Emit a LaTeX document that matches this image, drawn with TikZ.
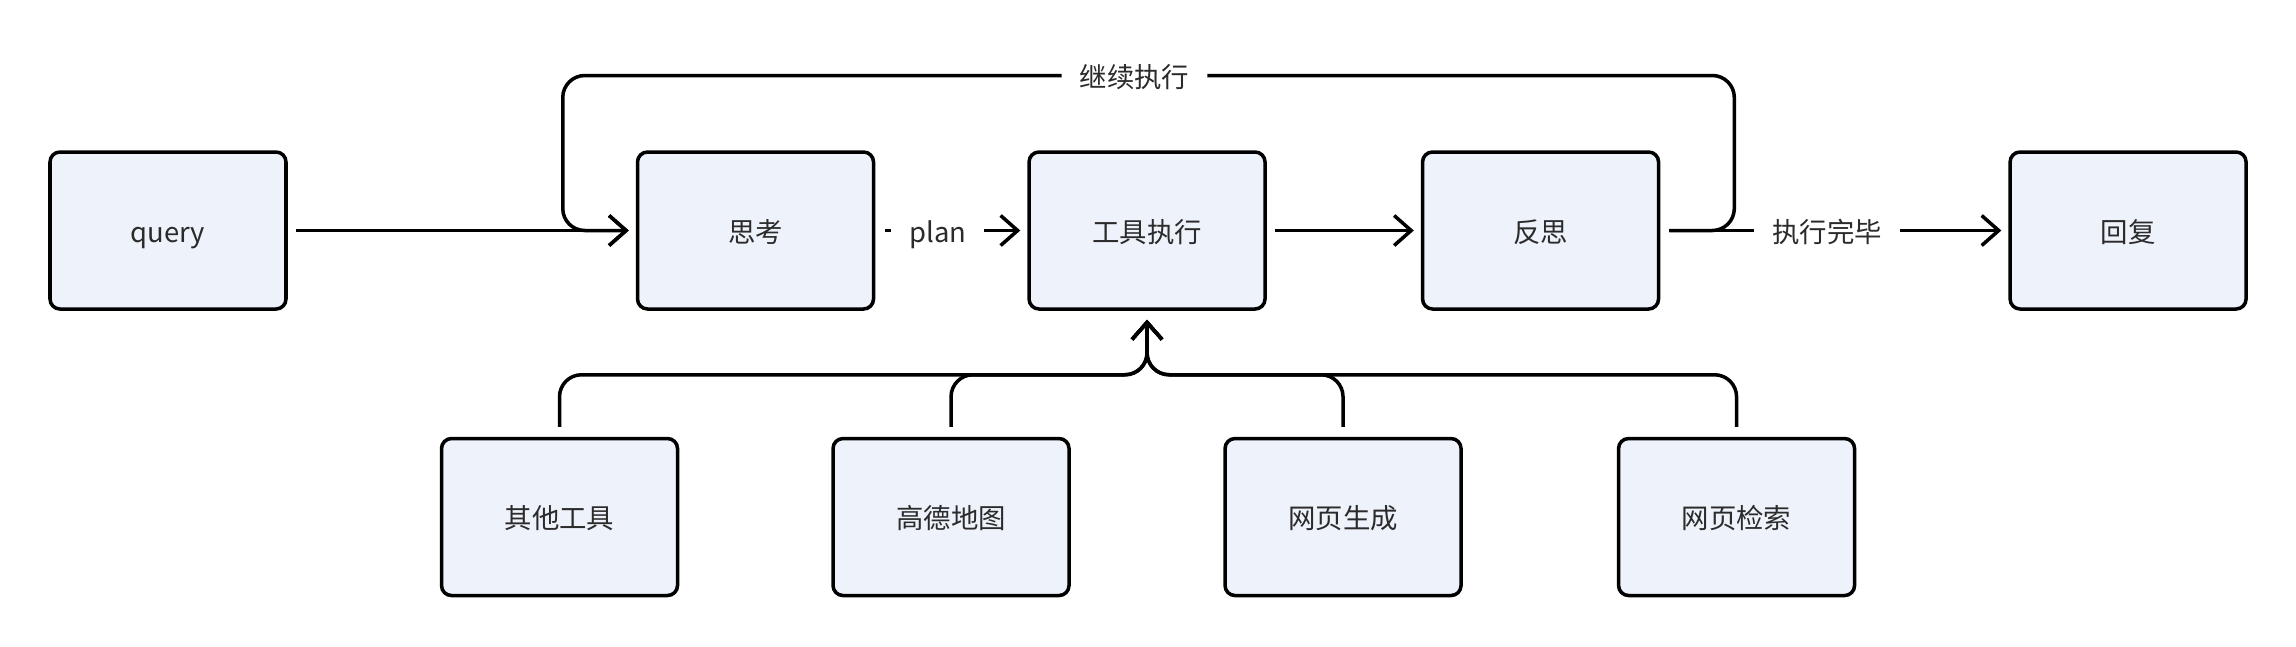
\documentclass[tikz,border=0pt]{standalone}
\usepackage{fontspec}
\setmainfont{Noto Sans CJK SC}
\usepackage{tikz}
\usetikzlibrary{ positioning, arrows.meta }
\usepackage{xcolor}
\definecolor{boxfill}{HTML}{EEF2FB}
\definecolor{ink}{HTML}{2B2B2B}

\begin{document}
\begin{tikzpicture}[
  blk/.style={draw, line width=1pt, rounded corners=0.1cm, fill=boxfill,
              minimum width=2.36cm, minimum height=1.57cm, align=center,
              text height=0.8em, text depth=0.12em,
              text=ink, font=\fontsize{7.8pt}{9pt}\selectfont},
  lbl/.style={fill=white, inner xsep=0.18cm, inner ysep=1pt, text=ink,
              text height=0.8em, text depth=0.12em,
              font=\fontsize{7.8pt}{9pt}\selectfont},
  ar/.style={-{Straight Barb[length=0.17cm,width=0.3cm]}, line width=1pt},
]
  \useasboundingbox (0,0) rectangle (22.96,-6.46);
  \node[blk] (query) at (1.68,-2.305) {query};
  \node[blk, right=3.48cm of query] (think) {思考};
  \node[blk, right=1.52cm of think] (tool) {工具执行};
  \node[blk, right=1.54cm of tool] (reflect) {反思};
  \node[blk, right=3.48cm of reflect] (reply) {回复};
  \node[blk, below=1.26cm of tool, xshift=-1.96cm] (amap) {高德地图};
  \node[blk, below=1.26cm of tool, xshift=1.96cm] (webgen) {网页生成};
  \node[blk, left=1.52cm of amap] (other) {其他工具};
  \node[blk, right=1.54cm of webgen] (websearch) {网页检索};
  % loop back
  \draw[ar, rounded corners=0.22cm] ([xshift=0.09cm]reflect.east)
    -| ([xshift=0.74cm,yshift=1.55cm]reflect.east)
    -| node[lbl, pos=0.256] {继续执行} ([xshift=-0.73cm]think.west)
    -- ([xshift=-0.07cm]think.west);
  \draw[ar] ([xshift=0.08cm]query.east) -- ([xshift=-0.07cm]think.west);
  \draw[ar] ([xshift=0.1cm]think.east) -- node[lbl, pos=0.39] {plan} ([xshift=-0.07cm]tool.west);
  \draw[ar] ([xshift=0.08cm]tool.east) -- ([xshift=-0.07cm]reflect.west);
  \draw[ar] ([xshift=0.09cm]reflect.east) -- node[lbl, pos=0.475] {执行完毕} ([xshift=-0.07cm]reply.west);
  % tools
  \foreach \t in {other,amap,webgen,websearch}
    \draw[ar, rounded corners=0.22cm] ([yshift=0.1cm]\t.north)
      |- ([yshift=-0.64cm]tool.south) -- ([yshift=-0.09cm]tool.south);
\end{tikzpicture}
\end{document}
